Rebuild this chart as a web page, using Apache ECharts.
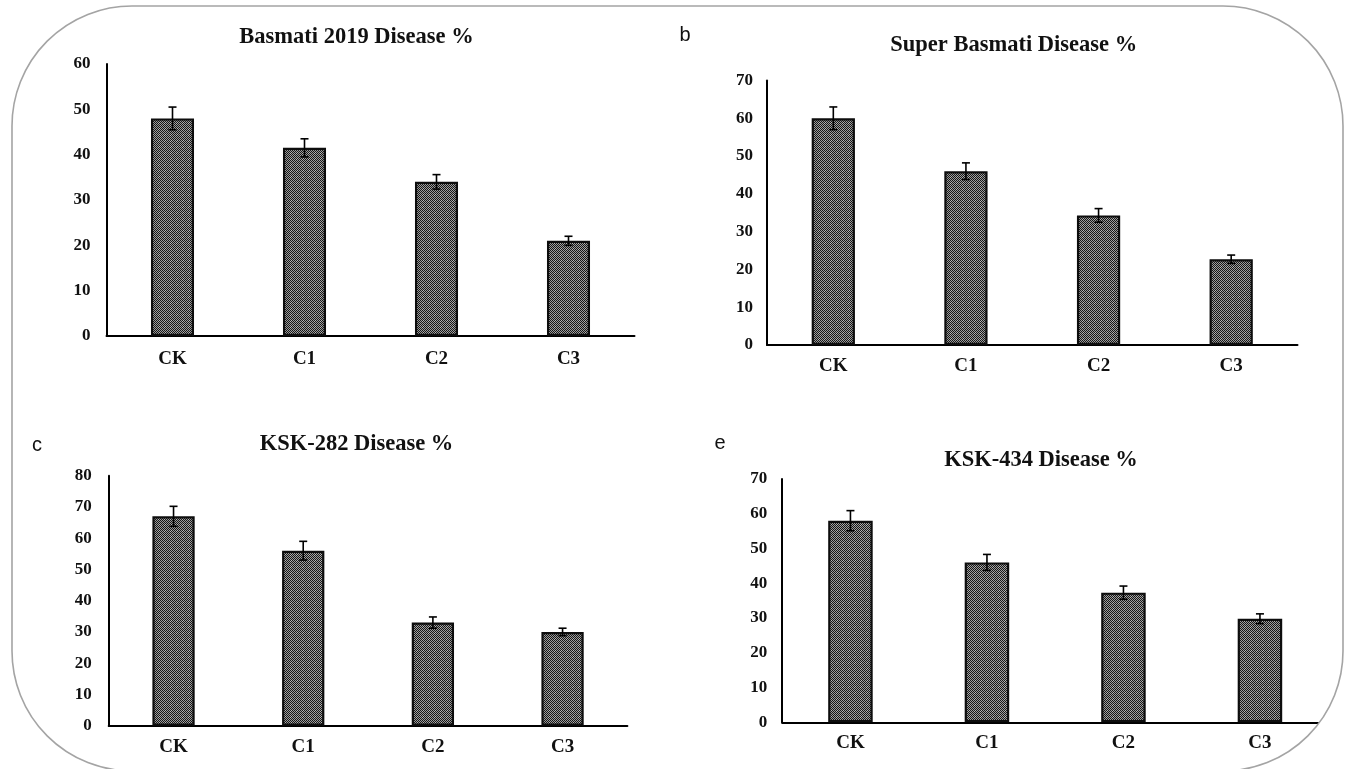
<!DOCTYPE html>
<html>
<head>
<meta charset="utf-8">
<script src="https://cdn.jsdelivr.net/npm/echarts@6/dist/echarts.min.js"></script>
<style>
html,body{margin:0;padding:0;background:#fff;}
#chart{width:1353px;height:769px;}
</style>
</head>
<body>
<div id="chart"></div>
<script>
// ---- data ----
const categories = ['CK', 'C1', 'C2', 'C3'];
const basmati2019 = [48, 41.5, 34, 21];
const basmati2019Err = [2.5, 2, 1.6, 1];
const superBasmati = [60, 46, 34.3, 22.7];
const superBasmatiErr = [3, 2.2, 1.8, 1.1];
const ksk282 = [67, 56, 33, 30];
const ksk282Err = [3.2, 3, 1.8, 1.2];
const ksk434 = [58, 46, 37.3, 29.8];
const ksk434Err = [2.9, 2.3, 1.9, 1.4];
const titles = ['Basmati 2019 Disease %', 'Super Basmati Disease %', 'KSK-282 Disease %', 'KSK-434 Disease %'];
const panelLetters = ['', 'b', 'c', 'e'];
const yMax = [60, 70, 80, 70];
const yInterval = 10;

const values = [basmati2019, superBasmati, ksk282, ksk434];
const errors = [basmati2019Err, superBasmatiErr, ksk282Err, ksk434Err];

// ---- layout (styles) ----
const grids = [
  {left: 106.5, top: 64, width: 528, height: 272},
  {left: 767, top: 80.5, width: 530.5, height: 264.5},
  {left: 108.7, top: 475.7, width: 518.7, height: 250},
  {left: 782.2, top: 479, width: 546, height: 243.3}
];
const yLabelMargin = [16, 14, 17, 15];
const xLabelMargin = [14, 12, 12, 11];
const titlePos = [[356.5, 37], [1013.7, 45], [356.5, 444], [1041, 460]];
const letterPos = [[0, 0], [685, 35], [37, 445], [720, 443]];

// bar fill pattern (dark dotted checker)
const pc = document.createElement('canvas');
pc.width = 6; pc.height = 6;
const pctx = pc.getContext('2d');
pctx.fillStyle = '#9c9c9c';
pctx.fillRect(0, 0, 6, 6);
pctx.fillStyle = '#161616';
for (let i = 0; i < 6; i++) for (let j = 0; j < 6; j++) if ((i + j) % 2 === 0) pctx.fillRect(i, j, 1, 1);
pctx.fillStyle = '#b8b8b8';
pctx.fillRect(3, 2, 1, 1);
pctx.fillRect(2, 3, 1, 1);

const serif = '"Liberation Serif", "Times New Roman", serif';

const chart = echarts.init(document.getElementById('chart'), null, {renderer: 'canvas'});

const xAxis = [], yAxis = [], series = [], graphic = [];
grids.forEach((g, i) => {
  xAxis.push({
    type: 'category', gridIndex: i, data: categories,
    axisLine: {lineStyle: {color: '#000', width: 2}},
    axisTick: {show: false},
    axisLabel: {color: '#111', fontFamily: serif, fontWeight: 'bold', fontSize: 19, margin: xLabelMargin[i]},
    splitLine: {show: false}
  });
  yAxis.push({
    type: 'value', gridIndex: i, min: 0, max: yMax[i], interval: yInterval,
    axisLine: {show: true, lineStyle: {color: '#000', width: 2}},
    axisTick: {show: false},
    axisLabel: {color: '#111', fontFamily: serif, fontWeight: 'bold', fontSize: 17, margin: yLabelMargin[i]},
    splitLine: {show: false}
  });
  series.push({
    type: 'bar', xAxisIndex: i, yAxisIndex: i, data: values[i], barWidth: '32.6%',
    itemStyle: {color: {image: pc, repeat: 'repeat'}, borderColor: '#0d0d0d', borderWidth: 2.2},
    silent: true
  });
  series.push({
    type: 'custom', xAxisIndex: i, yAxisIndex: i, z: 10, silent: true,
    data: values[i].map((v, k) => [k, v, errors[i][k]]),
    renderItem: function (params, api) {
      const k = api.value(0), v = api.value(1), e = api.value(2);
      const t = api.coord([k, v + e]);
      const b = api.coord([k, v - e]);
      const hw = 4;
      const st = {stroke: '#000', lineWidth: 1.6};
      return {type: 'group', children: [
        {type: 'line', shape: {x1: t[0], y1: t[1], x2: b[0], y2: b[1]}, style: st},
        {type: 'line', shape: {x1: t[0] - hw, y1: t[1], x2: t[0] + hw, y2: t[1]}, style: st},
        {type: 'line', shape: {x1: b[0] - hw, y1: b[1], x2: b[0] + hw, y2: b[1]}, style: st}
      ]};
    }
  });
  graphic.push({
    type: 'text', x: titlePos[i][0], y: titlePos[i][1], z: 20,
    style: {text: titles[i], fill: '#111', font: 'bold 22.5px ' + serif, align: 'center', verticalAlign: 'middle'}
  });
  if (panelLetters[i]) {
    graphic.push({
      type: 'text', x: letterPos[i][0], y: letterPos[i][1], z: 20,
      style: {text: panelLetters[i], fill: '#111', font: '20px "Liberation Sans", Arial, sans-serif', align: 'center', verticalAlign: 'middle'}
    });
  }
});

// white mask outside the rounded frame (drawn by a custom series path)
series.push({
  type: 'custom', coordinateSystem: 'none', silent: true, z: 50,
  data: [[0]],
  renderItem: function () {
    return {
      type: 'path',
      shape: {pathData: 'M0 0 L1353 0 L1353 769 L0 769 Z M132 6 A120 120 0 0 0 12 126 L12 651 A120 120 0 0 0 132 771 L1223 771 A120 120 0 0 0 1343 651 L1343 126 A120 120 0 0 0 1223 6 Z'},
      style: {fill: '#fff', stroke: null}
    };
  }
});
graphic.push({
  type: 'rect', z: 101, silent: true,
  shape: {x: 12, y: 6, width: 1331, height: 765, r: 120},
  style: {fill: null, stroke: '#a4a4a4', lineWidth: 1.6}
});

chart.setOption({
  animation: false,
  backgroundColor: '#fff',
  grid: grids,
  xAxis: xAxis,
  yAxis: yAxis,
  series: series,
  graphic: graphic
});
</script>
</body>
</html>
